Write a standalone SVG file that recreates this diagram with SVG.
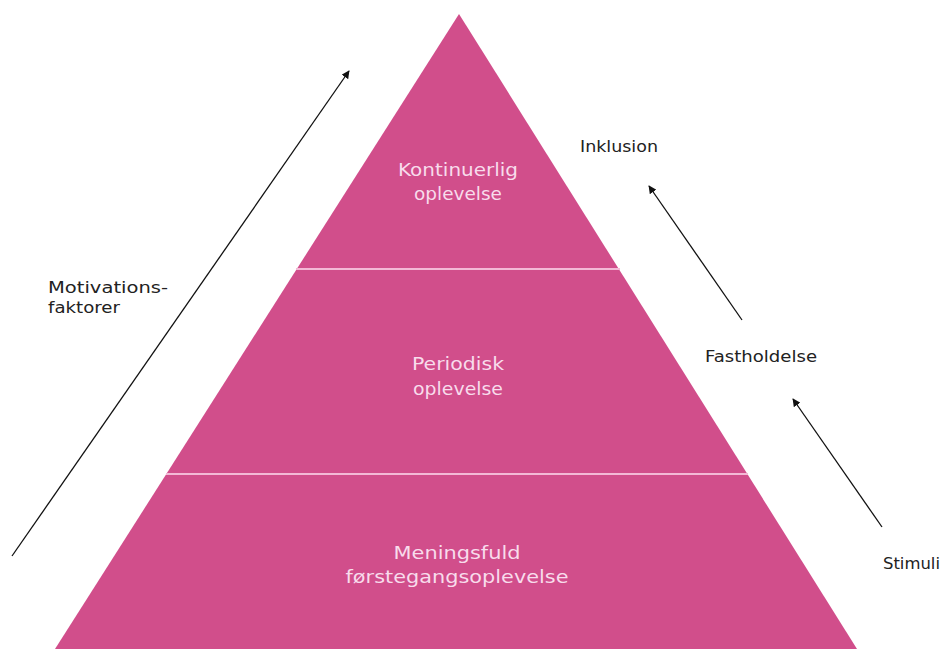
<svg xmlns="http://www.w3.org/2000/svg" width="944" height="649" viewBox="0 0 944 649">
<defs>
<style>
.lvl{fill:#d14e8b;}
.div{stroke:#f3b9d6;stroke-width:2;}
.pt{font-family:"DejaVu Sans","Liberation Sans",sans-serif;font-size:18px;fill:#f8dcec;text-anchor:middle;}
.lb{font-family:"DejaVu Sans","Liberation Sans",sans-serif;font-size:15px;fill:#222;}
.arr{stroke:#111;stroke-width:1.3;fill:none;marker-end:url(#ah);}
</style>
<marker id="ah" viewBox="0 0 10 10" refX="9" refY="5" markerWidth="8" markerHeight="8" orient="auto" markerUnits="userSpaceOnUse">
<path d="M0,0 L10,5 L0,10 z" fill="#111"/>
</marker>
</defs>
<rect width="944" height="649" fill="#ffffff"/>
<g id="pyramid">
<polygon class="lvl" points="459,14 857,649 55,649"/>
<line class="div" x1="296" y1="269" x2="620" y2="269"/>
<line class="div" x1="166" y1="474" x2="748" y2="474"/>
</g>
<g id="level-top">
<text class="pt" x="458" y="176" textLength="120" lengthAdjust="spacingAndGlyphs">Kontinuerlig</text>
<text class="pt" x="458" y="200" textLength="88" lengthAdjust="spacingAndGlyphs">oplevelse</text>
</g>
<g id="level-middle">
<text class="pt" x="458" y="370" textLength="92" lengthAdjust="spacingAndGlyphs">Periodisk</text>
<text class="pt" x="458" y="395" textLength="90" lengthAdjust="spacingAndGlyphs">oplevelse</text>
</g>
<g id="level-bottom">
<text class="pt" x="457" y="559" textLength="127" lengthAdjust="spacingAndGlyphs">Meningsfuld</text>
<text class="pt" x="457" y="583" textLength="223" lengthAdjust="spacingAndGlyphs">førstegangsoplevelse</text>
</g>
<g id="label-motivation">
<text class="lb" x="48" y="293" textLength="120" lengthAdjust="spacingAndGlyphs">Motivations-</text>
<text class="lb" x="48" y="313" textLength="72" lengthAdjust="spacingAndGlyphs">faktorer</text>
</g>
<g id="label-inklusion"><text class="lb" x="580" y="152" textLength="78" lengthAdjust="spacingAndGlyphs">Inklusion</text></g>
<g id="label-fastholdelse"><text class="lb" x="705" y="362" textLength="112" lengthAdjust="spacingAndGlyphs">Fastholdelse</text></g>
<g id="label-stimuli"><text class="lb" x="883" y="569" textLength="57" lengthAdjust="spacingAndGlyphs">Stimuli</text></g>
<g id="connectors">
<line class="arr" x1="12" y1="556" x2="349" y2="71"/>
<line class="arr" x1="742" y1="320" x2="649" y2="186"/>
<line class="arr" x1="882" y1="527" x2="793" y2="399"/>
</g>
</svg>
